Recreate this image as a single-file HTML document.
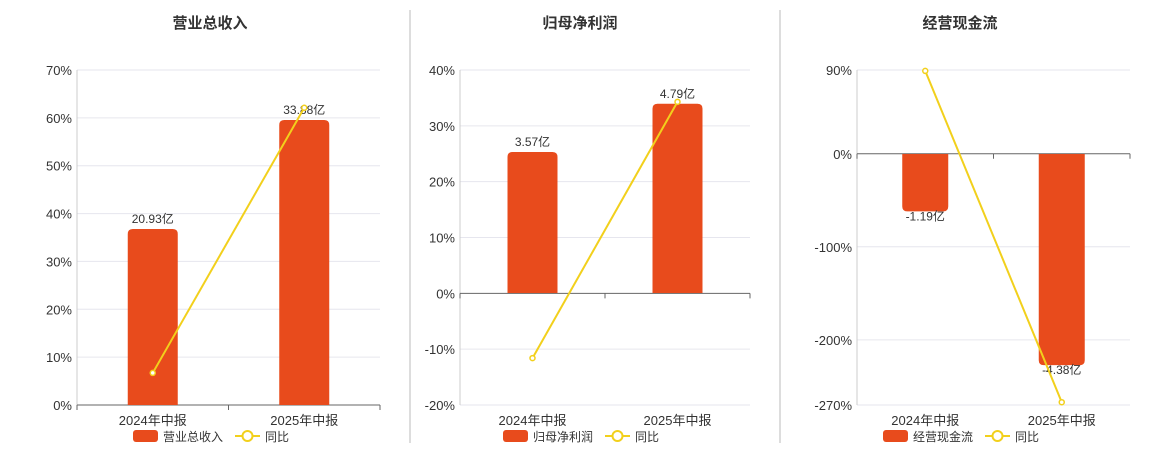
<!DOCTYPE html>
<html><head><meta charset="utf-8"><style>
body{margin:0;background:#fff;font-family:"Liberation Sans","Noto Sans CJK SC",sans-serif;}
svg{display:block}
</style></head><body>
<svg id="c" width="1160" height="450" xmlns="http://www.w3.org/2000/svg" font-family="Liberation Sans, Noto Sans CJK SC, sans-serif"></svg>
<script>
const categories = ["2024年中报","2025年中报"];
const titles = ["营业总收入","归母净利润","经营现金流"];
const barValues1 = [20.93, 33.88];
const barValues2 = [3.57, 4.79];
const barValues3 = [-1.19, -4.38];
const barLabels1 = ["20.93亿","33.88亿"];
const barLabels2 = ["3.57亿","4.79亿"];
const barLabels3 = ["-1.19亿","-4.38亿"];
const yoy1 = [6.7, 62.1];
const yoy2 = [-11.6, 34.3];
const yoy3 = [89, -267];
const ticks1 = [0,10,20,30,40,50,60,70];
const ticks2 = [-20,-10,0,10,20,30,40];
const ticks3 = [-270,-200,-100,0,90];

const panels = [
 {x0:77,x1:380,title:titles[0],bars:barValues1,labels:barLabels1,yoy:yoy1,ticks:ticks1,min:0,max:70,bmin:0,bmax:39.83,bw:50,legend:"营业总收入",lx:133},
 {x0:460,x1:750,title:titles[1],bars:barValues2,labels:barLabels2,yoy:yoy2,ticks:ticks2,min:-20,max:40,bmin:-2.835,bmax:5.646,bw:50,legend:"归母净利润",lx:503},
 {x0:857,x1:1130,title:titles[2],bars:barValues3,labels:barLabels3,yoy:yoy3,ticks:ticks3,min:-270,max:90,bmin:-5.207,bmax:1.743,bw:46,legend:"经营现金流",lx:883}
];
const svg=document.getElementById('c');
const NS="http://www.w3.org/2000/svg";
function mk(t,a,p){const e=document.createElementNS(NS,t);for(const k in a)e.setAttribute(k,a[k]);(p||svg).appendChild(e);return e;}
const Y0=405,Y1=70;
[410,780].forEach((x,i)=>{const l=mk('line',{x1:x,x2:x,y1:10,y2:443,stroke:'#bbb'});

});
const titleX=[210,580,960];
panels.forEach((p,pi)=>{
 const g=mk('g',{});
 
 
 const ys=v=>Y0-(v-p.min)/(p.max-p.min)*(Y0-Y1);
 const yb=v=>Y0-(v-p.bmin)/(p.bmax-p.bmin)*(Y0-Y1);
 const bandW=(p.x1-p.x0)/categories.length;
 const xc=i=>p.x0+bandW*(i+0.5);
 const tt=mk('text',{x:titleX[pi],y:28,'text-anchor':'middle','font-size':15,'font-weight':'bold',fill:'#333'},g);
 tt.textContent=p.title;
 
 
 p.ticks.forEach(t=>{
  const y=ys(t);
  if(t!==0){const gl=mk('line',{x1:p.x0,x2:p.x1,y1:y,y2:y,stroke:'#e6e6ee'},g);
  
  }
  const tl=mk('text',{x:p.x0-5,y:y+5,'text-anchor':'end','font-size':13,fill:'#333'},g);
  tl.textContent=t+'%';
  
  
 });
 const ax=mk('line',{x1:p.x0,x2:p.x0,y1:Y1,y2:Y0,stroke:'#ccc'},g);
 
 
 const zy=ys(0);
 const xa=mk('line',{x1:p.x0,x2:p.x1,y1:zy,y2:zy,stroke:'#666'},g);
 
 
 for(let i=0;i<=categories.length;i++){const x=p.x0+bandW*i;const tk=mk('line',{x1:x,x2:x,y1:zy,y2:zy+5,stroke:'#666'},g);
 
 }
 categories.forEach((c,i)=>{
  const cl=mk('text',{x:xc(i),y:425,'text-anchor':'middle','font-size':13,fill:'#333'},g);
  cl.textContent=c;
  
  
  const v=p.bars[i],b0=yb(0),bv=yb(v),x=xc(i)-p.bw/2,w=p.bw,r=5;
  let d;
  if(v>=0){d=`M${x},${b0}V${bv+r}Q${x},${bv} ${x+r},${bv}H${x+w-r}Q${x+w},${bv} ${x+w},${bv+r}V${b0}Z`;}
  else{d=`M${x},${b0}V${bv-r}Q${x},${bv} ${x+r},${bv}H${x+w-r}Q${x+w},${bv} ${x+w},${bv-r}V${b0}Z`;}
  const bar=mk('path',{d:d,fill:'#E84B1C'},g);
  
  
  const bl=mk('text',{x:xc(i),y:v>=0?bv-6:bv+9,'text-anchor':'middle','font-size':12,fill:'#333'},g);
  bl.textContent=p.labels[i];
  
  
 });
 const pts=p.yoy.map((v,i)=>xc(i)+','+ys(v)).join(' ');
 const ln=mk('polyline',{points:pts,fill:'none',stroke:'#F2D01C','stroke-width':2},g);
 
 
 p.yoy.forEach((v,i)=>{const pt=mk('circle',{cx:xc(i),cy:ys(v),r:2.5,fill:'#fff',stroke:'#F2D01C','stroke-width':1.5},g);
 
 });
 const lg=mk('g',{},g);
 
 
 mk('rect',{x:p.lx,y:430,width:25,height:12,rx:3,fill:'#E84B1C'},lg);
 const t1=mk('text',{x:p.lx+30,y:441,'font-size':12,fill:'#333'},lg);t1.textContent=p.legend;
 const lx2=p.lx+102;
 mk('line',{x1:lx2,x2:lx2+25,y1:436,y2:436,stroke:'#F2D01C','stroke-width':2},lg);
 mk('circle',{cx:lx2+12.5,cy:436,r:5,fill:'#fff',stroke:'#F2D01C','stroke-width':2},lg);
 const t2=mk('text',{x:lx2+30,y:441,'font-size':12,fill:'#333'},lg);t2.textContent='同比';
});
</script>
</body></html>
